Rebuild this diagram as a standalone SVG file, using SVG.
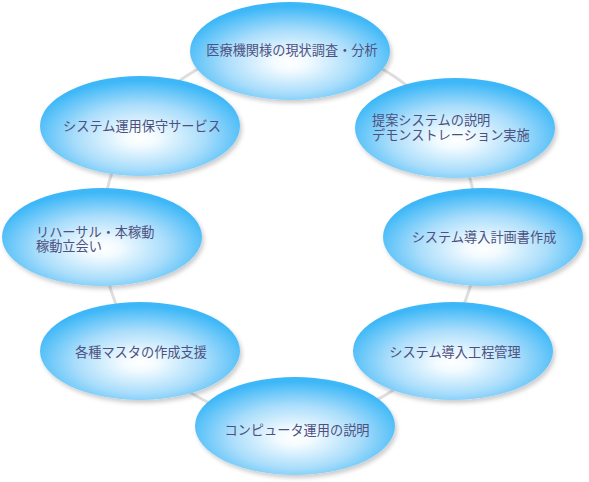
<svg xmlns="http://www.w3.org/2000/svg" width="589" height="482" viewBox="0 0 589 482">
<defs>
<radialGradient id="g" cx="0.5" cy="0.6" r="0.56" fx="0.5" fy="0.62">
<stop offset="0" stop-color="#ffffff"/>
<stop offset="0.15" stop-color="#f3fbff"/>
<stop offset="0.58" stop-color="#a9ddfb"/>
<stop offset="1" stop-color="#3cb7f7"/>
</radialGradient>
<filter id="sh" x="-10%" y="-10%" width="125%" height="130%">
<feDropShadow dx="2" dy="3" stdDeviation="2" flood-color="#000" flood-opacity="0.2"/>
</filter>
</defs>
<style>
.n ellipse{fill:url(#g);filter:url(#sh);}
.n text{font-family:"Noto Sans CJK JP","Liberation Sans",sans-serif;font-size:13.2px;fill:#4e5180;}
.c{text-anchor:middle;}
</style>
<rect width="589" height="482" fill="#ffffff"/>
<g id="connectors">
<circle cx="290" cy="233" r="188" fill="none" stroke="#dedede" stroke-width="3"/>
</g>
<g id="n1" class="n"><ellipse cx="290" cy="51" rx="100" ry="49"/><text class="c" x="292" y="55">医療機関様の現状調査・分析</text></g>
<g id="n2" class="n"><ellipse cx="455" cy="128" rx="100" ry="50"/><text x="372" y="125">提案システムの説明</text><text x="372" y="140">デモンストレーション実施</text></g>
<g id="n3" class="n"><ellipse cx="483" cy="237" rx="100" ry="49"/><text class="c" x="484" y="242">システム導入計画書作成</text></g>
<g id="n4" class="n"><ellipse cx="453" cy="351" rx="100" ry="49"/><text class="c" x="455" y="357">システム導入工程管理</text></g>
<g id="n5" class="n"><ellipse cx="295" cy="426" rx="100" ry="49"/><text class="c" x="297" y="435">コンピュータ運用の説明</text></g>
<g id="n6" class="n"><ellipse cx="140" cy="351" rx="100" ry="49"/><text class="c" x="141" y="357">各種マスタの作成支援</text></g>
<g id="n7" class="n"><ellipse cx="102" cy="237" rx="100" ry="49"/><text x="36" y="237">リハーサル・本稼動</text><text x="36" y="251">稼動立会い</text></g>
<g id="n8" class="n"><ellipse cx="140" cy="126" rx="100" ry="50"/><text class="c" x="142" y="131">システム運用保守サービス</text></g>
</svg>
